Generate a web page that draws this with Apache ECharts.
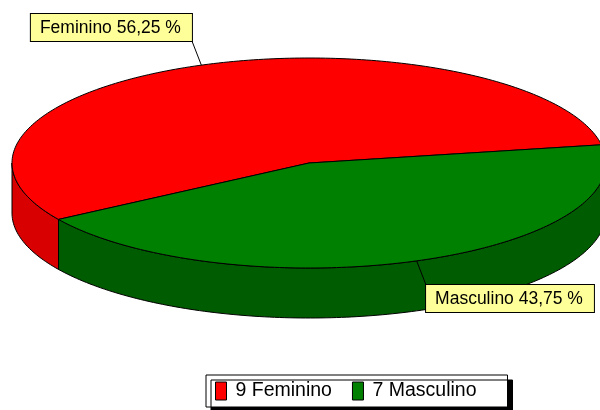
<!DOCTYPE html>
<html>
<head>
<meta charset="utf-8">
<script src="https://cdn.jsdelivr.net/npm/echarts@6/dist/echarts.min.js"></script>
<style>
  html, body { margin: 0; padding: 0; background: #fff; }
  #chart { width: 600px; height: 410px; }
</style>
</head>
<body>
<div id="chart"></div>
<script>
// ---- data ----
const categories = ['Feminino', 'Masculino'];
const counts = [9, 7];

// ---- styles ----
const topColors = ['#ff0000', '#008000'];
const sideColors = ['#d80000', '#005c00'];
const FONT = '"Liberation Sans", Arial, sans-serif';

// ---- pie geometry (3D tilted pie) ----
const G = { cx: 309, cy: 163, rx: 297, ry: 105, depth: 50, startAngle: 147.5, leader: 26 };

const total = counts.reduce((a, b) => a + b, 0);

function pt(deg, dy) {
  const t = deg * Math.PI / 180;
  return [G.cx + G.rx * Math.cos(t), G.cy + G.ry * Math.sin(t) + (dy || 0)];
}
function arcPts(a, b, dy) {
  const n = Math.max(2, Math.ceil(Math.abs(b - a)));
  const pts = [];
  for (let i = 0; i <= n; i++) pts.push(pt(a + (b - a) * i / n, dy));
  return pts;
}

function makeRender(idx) {
  return function (params, api) {
    let before = 0;
    for (let i = 0; i < idx; i++) before += counts[i];
    const v = api.value(0);
    const a1 = G.startAngle + before / total * 360;
    const a2 = a1 + v / total * 360;
    const children = [];
    // visible side walls (front half of the ellipse)
    for (let k = 0; k < 3; k++) {
      const lo = Math.max(a1, k * 360), hi = Math.min(a2, k * 360 + 180);
      if (hi > lo) {
        const pts = arcPts(lo, hi, 0).concat(arcPts(hi, lo, G.depth));
        children.push({
          type: 'polygon', shape: { points: pts }, z2: 1,
          style: { fill: sideColors[idx], stroke: '#000', lineWidth: 1 }
        });
      }
    }
    // top face
    const topPts = [[G.cx, G.cy]].concat(arcPts(a1, a2, 0));
    children.push({
      type: 'polygon', shape: { points: topPts }, z2: 2,
      style: { fill: topColors[idx], stroke: '#000', lineWidth: 1 }
    });
    // label with leader line
    const mid = (a1 + a2) / 2;
    const e = pt(mid, 0);
    const m = mid * Math.PI / 180;
    const c = Math.cos(m), s = Math.sin(m);
    const end = [e[0] + c * G.leader, e[1] + s * G.leader];
    children.push({
      type: 'line', shape: { x1: e[0], y1: e[1], x2: end[0], y2: end[1] }, z2: 3,
      style: { stroke: '#000', lineWidth: 1 }
    });
    const pct = (v / total * 100).toFixed(2).replace('.', ',');
    children.push({
      type: 'text', x: end[0], y: end[1], z2: 4,
      style: {
        text: categories[idx] + ' ' + pct + ' %',
        font: '17.5px ' + FONT,
        fill: '#000',
        align: c < 0 ? 'right' : 'left',
        verticalAlign: s < 0 ? 'bottom' : 'top',
        backgroundColor: '#ffff99',
        borderColor: '#000',
        borderWidth: 1,
        padding: [5, 11, 4, 9]
      }
    });
    return { type: 'group', children: children };
  };
}

const series = categories.map((name, i) => ({
  type: 'custom',
  name: name,
  coordinateSystem: 'none',
  itemStyle: { color: topColors[i] },
  data: [{ name: name, value: counts[i] }],
  renderItem: makeRender(i),
  animation: false,
  silent: true
}));

const chart = echarts.init(document.getElementById('chart'), null, { renderer: 'canvas' });
chart.setOption({
  backgroundColor: '#fff',
  animation: false,
  legend: {
    left: 206, top: 375,
    data: categories,
    icon: 'rect',
    itemWidth: 11, itemHeight: 18, itemGap: 20,
    padding: [6, 31, 6, 9],
    backgroundColor: '#fff',
    borderColor: '#000', borderWidth: 1,
    shadowColor: '#000', shadowBlur: 0, shadowOffsetX: 5, shadowOffsetY: 5,
    itemStyle: { borderColor: '#000', borderWidth: 1 },
    textStyle: { fontFamily: FONT, fontSize: 19.5, color: '#000', padding: [0, 0, 0, 4] },
    formatter: name => counts[categories.indexOf(name)] + ' ' + name,
    selectedMode: false
  },
  series: series
});
</script>
</body>
</html>
